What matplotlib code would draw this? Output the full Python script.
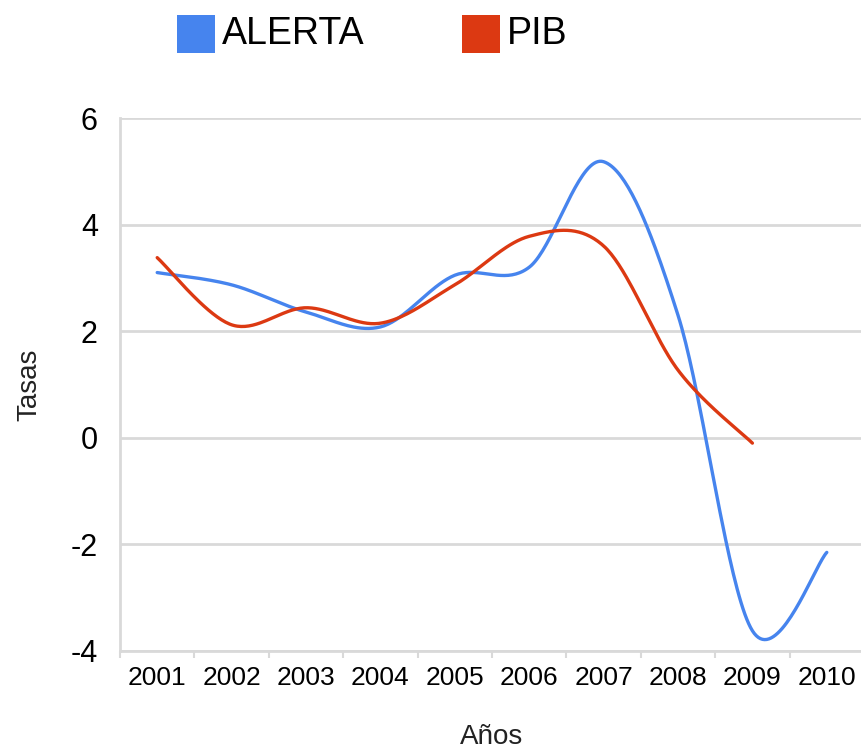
import numpy as np
import matplotlib
matplotlib.use('Agg')
import matplotlib.pyplot as plt
from matplotlib.patches import Rectangle

years = ['2001', '2002', '2003', '2004', '2005', '2006', '2007', '2008', '2009', '2010']
alerta = [3.1, 2.87, 2.36, 2.08, 3.05, 3.2, 5.18, 2.3, -3.62, -2.15]
pib = [3.38, 2.12, 2.44, 2.15, 2.87, 3.78, 3.6, 1.27, -0.1]

blue = '#4684ee'
red = '#dc3912'
grid_col = '#d9d9d9'

plt.rcParams['font.family'] = ['Liberation Sans', 'DejaVu Sans']


def smooth(ys, steps=40):
    # catmull-rom style curve through the points, like curveType 'function'
    pts = np.array(ys, dtype=float)
    xs = np.arange(len(pts), dtype=float)
    px = np.concatenate([[xs[0]], xs, [xs[-1]]])
    py = np.concatenate([[pts[0]], pts, [pts[-1]]])
    out_x, out_y = [], []
    t = np.linspace(0, 1, steps)
    for i in range(len(pts) - 1):
        x0, y0 = px[i + 1], py[i + 1]
        x3, y3 = px[i + 2], py[i + 2]
        x1 = x0 + (px[i + 2] - px[i]) / 6
        y1 = y0 + (py[i + 2] - py[i]) / 6
        x2 = x3 - (px[i + 3] - px[i + 1]) / 6
        y2 = y3 - (py[i + 3] - py[i + 1]) / 6
        bx = (1 - t)**3 * x0 + 3 * (1 - t)**2 * t * x1 + 3 * (1 - t) * t**2 * x2 + t**3 * x3
        by = (1 - t)**3 * y0 + 3 * (1 - t)**2 * t * y1 + 3 * (1 - t) * t**2 * y2 + t**3 * y3
        out_x.extend(bx)
        out_y.extend(by)
    return np.array(out_x), np.array(out_y)


fig = plt.figure(figsize=(8.61, 7.51), dpi=100)
ax = fig.add_axes([120 / 861, 1 - 651 / 751, 744 / 861, 533 / 751])

ax.set_xlim(-0.5, len(years) - 0.5)
ax.set_ylim(-4, 6)
ax.set_yticks([-4, -2, 0, 2, 4, 6])
ax.set_yticklabels(['-4', '-2', '0', '2', '4', '6'])
ax.grid(axis='y', color=grid_col, linewidth=2)
ax.set_axisbelow(True)

ax.set_xticks(np.arange(len(years)))
ax.set_xticklabels(years, fontsize=19)
ax.set_xticks(np.arange(len(years) + 1) - 0.5, minor=True)
ax.tick_params(axis='x', which='major', length=0, pad=11)
ax.tick_params(axis='x', which='minor', length=5, width=1.5, color=grid_col)
ax.tick_params(axis='y', length=0, pad=16, labelsize=22)

for s in ['top', 'right']:
    ax.spines[s].set_visible(False)
for s in ['left', 'bottom']:
    ax.spines[s].set_color(grid_col)
    ax.spines[s].set_linewidth(2)

bx, by = smooth(alerta)
ax.plot(bx, by, color=blue, linewidth=2.4, solid_capstyle='round')
rx, ry = smooth(pib)
ax.plot(rx, ry, color=red, linewidth=2.4, solid_capstyle='round')

ax.set_xlabel('Años', fontsize=20, color='#222222', labelpad=24)
ax.set_ylabel('Tasas', fontsize=20, color='#222222', labelpad=20)

# legend at the top
for x0, col, name in [(177, blue, 'ALERTA'), (462, red, 'PIB')]:
    fig.patches.append(Rectangle((x0 / 861, 1 - 53 / 751), 38 / 861, 38 / 751,
                                 transform=fig.transFigure, facecolor=col,
                                 edgecolor='none'))
    fig.text((x0 + 45) / 861, 1 - 34 / 751, name, fontsize=27, va='center', ha='left',
             color='black')

fig.savefig('out.png', dpi=100)
